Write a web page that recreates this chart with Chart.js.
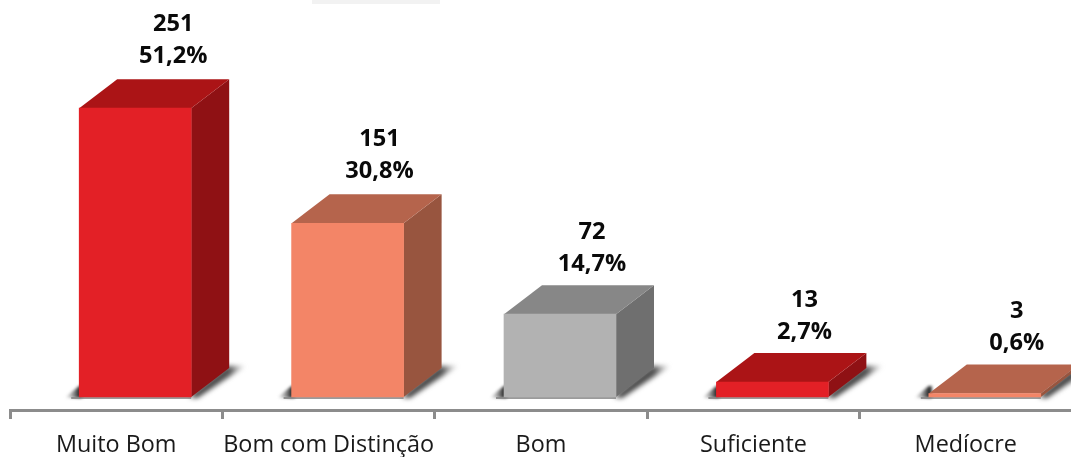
<!DOCTYPE html>
<html><head><meta charset="utf-8">
<style>html,body{margin:0;padding:0;background:#fff;overflow:hidden}canvas{display:block}</style>
<script src="https://cdn.jsdelivr.net/npm/chart.js@4/dist/chart.umd.min.js"></script>
</head><body><canvas id="c" width="1072" height="457"></canvas>
<script>
const categories = ["Muito Bom","Bom com Distinção","Bom","Suficiente","Medíocre"];
const counts = [251,151,72,13,3];
const percents = ["51,2%","30,8%","14,7%","2,7%","0,6%"];
const frontColors = ["#E32026","#F38567","#B2B2B2","#E32026","#F38567"];
const sideColors = ["#8F1114","#98553F","#6F6F6F","#8F1114","#98553F"];
const topColors = ["#AB1416","#B5644C","#878787","#AB1416","#B5644C"];
const labelDx = [38,32,32,32,32];
const labelRise = [84,84,82,82,82.5];
const DX = 38, DY = 29, SHIFT = 19;

function poly(ctx, pts, fill){
  ctx.beginPath();
  pts.forEach((p,i)=> i?ctx.lineTo(p[0],p[1]):ctx.moveTo(p[0],p[1]));
  ctx.closePath(); ctx.fillStyle = fill; ctx.fill();
}
const box3d = {
  id:'box3d',
  beforeDraw(chart){
    const ctx = chart.ctx;
    ctx.save(); ctx.fillStyle = '#F2F2F2'; ctx.fillRect(312,0,128,4); ctx.restore();
  },
  beforeDatasetsDraw(chart){
    const ctx = chart.ctx, els = chart.getDatasetMeta(0).data;
    ctx.save();
    ctx.translate(SHIFT,0);
    els.forEach((el,i)=>{
      const p = el.getProps(['x','y','base','width'],true);
      const l = p.x-p.width/2, r = p.x+p.width/2, t = p.y, b = p.base;
      ctx.save();
      ctx.filter = 'blur(2.5px)';
      const g = ctx.createLinearGradient(r,0,r+DX+18,0);
      g.addColorStop(0,'rgba(40,40,40,.95)'); g.addColorStop(.68,'rgba(60,60,60,.9)'); g.addColorStop(1,'rgba(130,130,130,.05)');
      poly(ctx,[[r-2,b],[r+DX-2,b-DY-2],[r+DX+16,b-DY-2],[r+6,b+1]],g);
      ctx.filter = 'blur(1.5px)';
      const g2 = ctx.createLinearGradient(l-14,0,l,0);
      g2.addColorStop(0,'rgba(110,110,110,0)'); g2.addColorStop(1,'rgba(40,40,40,1)');
      poly(ctx,[[l-15,b+1],[l,b-11],[l+3,b-11],[l+3,b+1]],g2);
      ctx.filter = 'none';
      poly(ctx,[[l-8,b],[r,b],[r,b+2],[l-8,b+2]],'rgba(130,130,130,.8)');
      ctx.restore();
      poly(ctx,[[r,b],[r+DX,b-DY],[r+DX,t-DY],[r,t]],sideColors[i]);
      poly(ctx,[[l,t],[l+DX,t-DY],[r+DX,t-DY],[r,t]],topColors[i]);
    });
  },
  afterDatasetsDraw(chart){
    const ctx = chart.ctx, els = chart.getDatasetMeta(0).data;
    ctx.restore();
    ctx.save();
    ctx.font = 'bold 23.6px "Open Sans"';
    ctx.fillStyle = '#0a0a0a';
    ctx.textAlign = 'center'; ctx.textBaseline = 'middle';
    els.forEach((el,i)=>{
      const x = el.x+SHIFT+labelDx[i], t = el.y;
      ctx.fillText(String(counts[i]), x, t-labelRise[i]);
      ctx.fillText(percents[i], x, t-labelRise[i]+32);
    });
    ctx.restore();
  }
};
new Chart(document.getElementById('c'),{
  type:'bar',
  data:{labels:categories,datasets:[{data:counts,backgroundColor:frontColors,borderWidth:0,barThickness:112}]},
  plugins:[box3d],
  options:{
    responsive:false,animation:false,
    layout:{padding:{left:10,right:0,top:0,bottom:0}},
    plugins:{legend:{display:false},tooltip:{enabled:false}},
    scales:{
      x:{
        afterFit(s){ s.height = 47; },
        grid:{display:true,drawOnChartArea:false,drawTicks:true,tickLength:9,tickWidth:3,tickColor:'#8C8C8C',offset:true},
        border:{display:true,color:'#8C8C8C',width:3},
        ticks:{color:'#1a1a1a',font:{family:'"Open Sans"',size:23.4},padding:12,maxRotation:0,autoSkip:false}
      },
      y:{display:false,min:-11.3,max:345}
    }
  }
});
</script></body></html>
